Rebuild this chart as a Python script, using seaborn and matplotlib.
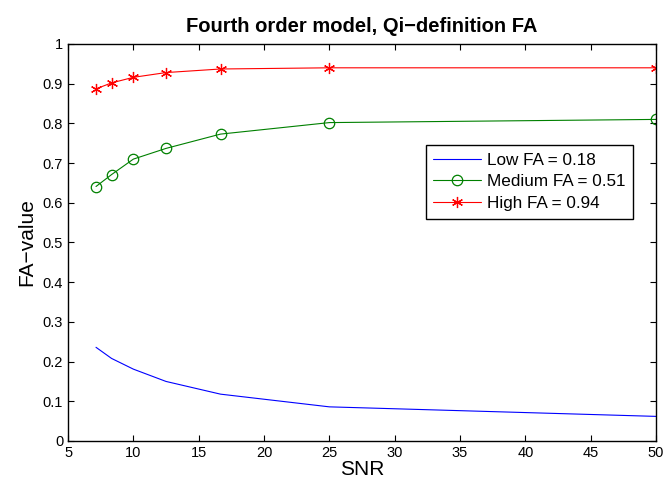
import matplotlib
matplotlib.use("Agg")
import matplotlib.pyplot as plt
import seaborn as sns
import pandas as pd

snr = [7.14, 8.33, 10.0, 12.5, 16.67, 25.0, 50.0]
low_fa = [0.236, 0.208, 0.181, 0.150, 0.118, 0.086, 0.062]
medium_fa = [0.641, 0.671, 0.710, 0.737, 0.773, 0.802, 0.810]
high_fa = [0.887, 0.902, 0.916, 0.928, 0.937, 0.940, 0.940]
labels = ["Low FA = 0.18", "Medium FA = 0.51", "High FA = 0.94"]

sns.set_style("ticks")
plt.rcParams['font.family'] = ['Liberation Sans', 'DejaVu Sans']
plt.rcParams['text.color'] = 'black'
plt.rcParams['axes.labelcolor'] = 'black'
plt.rcParams['xtick.color'] = 'black'
plt.rcParams['ytick.color'] = 'black'

fig = plt.figure(figsize=(6.67, 4.86), dpi=100)
ax = fig.add_axes([0.102, 0.0926, 0.8815, 0.8169])

sns.lineplot(x=snr, y=low_fa, ax=ax, color=(0, 0, 1), linewidth=0.8, label=labels[0])
sns.lineplot(x=snr, y=medium_fa, ax=ax, color=(0, 0.5, 0), linewidth=0.8, marker='o',
             markersize=7.5, markerfacecolor='none', markeredgecolor=(0, 0.5, 0),
             markeredgewidth=0.9, label=labels[1])
sns.lineplot(x=snr, y=high_fa, ax=ax, color=(1, 0, 0), linewidth=0.8, marker=(6, 2, 0),
             markersize=8, markeredgecolor=(1, 0, 0), markeredgewidth=0.9, label=labels[2])

ax.set_xlim(5, 50)
ax.set_ylim(0, 1)
ax.set_xticks(range(5, 51, 5))
ax.set_yticks([i / 10 for i in range(11)])
ax.set_yticklabels(["0", "0.1", "0.2", "0.3", "0.4", "0.5", "0.6", "0.7", "0.8", "0.9", "1"])
ax.tick_params(direction='in', top=True, right=True, labelsize=10.5, length=4, width=0.8,
               colors='black')
for s in ax.spines.values():
    s.set_visible(True)
    s.set_linewidth(1.0)
    s.set_color('black')

ax.set_xlabel("SNR", fontsize=15, labelpad=0)
ax.set_ylabel("FA\u2212value", fontsize=15, labelpad=5)
ax.set_title("Fourth order model, Qi\u2212definition FA", fontsize=14.5, fontweight='bold',
             pad=8.5, color='black')

leg = ax.legend(loc='upper left', bbox_to_anchor=(0.608, 0.746), fontsize=12.3, frameon=True,
                fancybox=False, edgecolor='black', framealpha=1, handlelength=2.8,
                borderpad=0.45, labelspacing=0.4, handletextpad=0.35, borderaxespad=0)
leg.get_frame().set_linewidth(1.0)

fig.savefig("out.png", dpi=100)
